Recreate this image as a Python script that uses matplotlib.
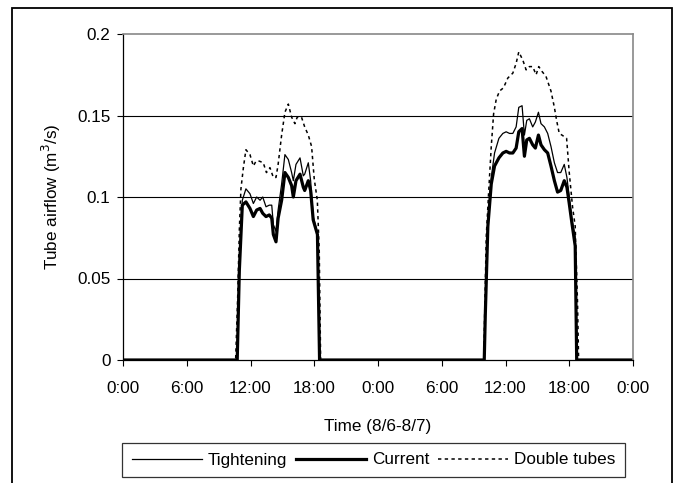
import matplotlib
matplotlib.use("Agg")
import matplotlib.pyplot as plt
from matplotlib.patches import Rectangle

# ---- data (hours since 8/6 0:00) ----
hours_tc = [0, 10.75, 10.95, 11.23, 11.57, 11.95, 12.27, 12.58, 12.9, 13.15, 13.46, 13.77, 14.0,
            14.15, 14.4, 14.6, 14.93, 15.24, 15.56, 15.87, 16.03, 16.28, 16.66, 16.97, 17.1,
            17.44, 17.66, 17.9, 18.3, 18.5,
            34.0, 34.1, 34.34, 34.66, 34.97, 35.38, 35.75, 36.06, 36.38, 36.69, 37.0, 37.25,
            37.56, 37.78, 38.0, 38.25, 38.56, 38.81, 39.1, 39.34, 39.66, 39.97, 40.28, 40.6,
            40.9, 41.2, 41.53, 41.78, 42.0, 42.25, 42.56, 42.7, 48]
tightening = [0, 0, 0.060, 0.098, 0.105, 0.102, 0.096, 0.100, 0.098, 0.100, 0.094, 0.095, 0.095,
              0.083, 0.079, 0.092, 0.108, 0.126, 0.123, 0.115, 0.110, 0.120, 0.124, 0.113, 0.114,
              0.121, 0.110, 0.088, 0.078, 0,
              0, 0.030, 0.086, 0.112, 0.127, 0.136, 0.139, 0.140, 0.139, 0.139, 0.143, 0.155,
              0.156, 0.138, 0.147, 0.148, 0.143, 0.146, 0.152, 0.145, 0.143, 0.139, 0.131, 0.121,
              0.115, 0.115, 0.120, 0.112, 0.100, 0.086, 0.076, 0, 0]
current = [0, 0, 0.055, 0.095, 0.097, 0.093, 0.088, 0.092, 0.093, 0.090, 0.088, 0.089, 0.087,
           0.077, 0.0725, 0.087, 0.098, 0.115, 0.112, 0.107, 0.100, 0.110, 0.114, 0.106, 0.104,
           0.110, 0.104, 0.086, 0.077, 0,
           0, 0.028, 0.082, 0.108, 0.119, 0.124, 0.127, 0.128, 0.127, 0.127, 0.130, 0.140,
           0.142, 0.125, 0.135, 0.136, 0.132, 0.130, 0.138, 0.132, 0.129, 0.127, 0.119, 0.110,
           0.103, 0.104, 0.110, 0.106, 0.096, 0.084, 0.070, 0, 0]

hours_dt = [0, 10.6, 10.8, 10.95, 11.1, 11.33, 11.57, 11.95, 12.27, 12.52, 12.83, 13.2, 13.5, 13.83,
            14.15, 14.4, 14.6, 14.93, 15.24, 15.56, 15.87, 16.18, 16.4, 16.8, 17.1, 17.44, 17.75,
            18.0, 18.29, 18.47, 18.6,
            33.95, 34.03, 34.19, 34.44, 34.66, 34.88, 35.13, 35.44, 35.81, 36.22, 36.69, 37.0,
            37.25, 37.63, 37.94, 38.25, 38.56, 38.88, 39.13, 39.44, 39.81, 40.28, 40.6, 40.81,
            41.06, 41.31, 41.75, 42.0, 42.31, 42.56, 42.78, 42.88, 48]
double_tubes = [0, 0, 0.040, 0.080, 0.105, 0.118, 0.129, 0.126, 0.119, 0.122, 0.122, 0.121, 0.115,
                0.118, 0.112, 0.112, 0.120, 0.138, 0.152, 0.157, 0.149, 0.145, 0.149, 0.149, 0.143,
                0.138, 0.131, 0.111, 0.098, 0.067, 0,
                0, 0.025, 0.076, 0.106, 0.131, 0.151, 0.160, 0.165, 0.167, 0.173, 0.176, 0.182,
                0.189, 0.184, 0.178, 0.180, 0.180, 0.175, 0.180, 0.177, 0.174, 0.165, 0.155, 0.147,
                0.139, 0.138, 0.136, 0.115, 0.094, 0.082, 0.035, 0, 0]

xtick_pos = [0, 6, 12, 18, 24, 30, 36, 42, 48]
xtick_labels = ["0:00", "6:00", "12:00", "18:00", "0:00", "6:00", "12:00", "18:00", "0:00"]
ytick_pos = [0, 0.05, 0.1, 0.15, 0.2]
ytick_labels = ["0", "0.05", "0.1", "0.15", "0.2"]

FS = 12.3
plt.rcParams['font.family'] = ['Liberation Sans', 'DejaVu Sans']
plt.rcParams['font.size'] = FS

fig = plt.figure(figsize=(6.8, 4.83), dpi=100)
ax = fig.add_axes([123/680, 1-360/483, 510/680, 326/483])

l1, = ax.plot(hours_tc, tightening, color='black', lw=0.9, label='Tightening')
l2, = ax.plot(hours_tc, current, color='black', lw=2.3, label='Current')
l3, = ax.plot(hours_dt, double_tubes, color='black', lw=1.1, linestyle=(0, (2.2, 2.2)),
              label='Double tubes')

ax.set_xlim(0, 48)
ax.set_ylim(0, 0.2)
ax.set_xticks(xtick_pos)
ax.set_xticklabels(xtick_labels)
ax.set_yticks(ytick_pos)
ax.set_yticklabels(ytick_labels)
ax.tick_params(direction='out', length=4, width=0.8, colors='black', labelsize=FS)
ax.tick_params(axis='x', pad=11)
ax.tick_params(axis='y', pad=5)
for y in [0.05, 0.1, 0.15]:
    ax.axhline(y, color='black', lw=0.8, zorder=0)
for s in ['top', 'right']:
    ax.spines[s].set_color('#888888')
    ax.spines[s].set_linewidth(1.2)
for s in ['left', 'bottom']:
    ax.spines[s].set_color('black')
    ax.spines[s].set_linewidth(0.9)

ax.set_ylabel('Tube airflow (m$^3$/s)', fontsize=FS, labelpad=10)
ax.set_xlabel('Time (8/6-8/7)', fontsize=FS, labelpad=17)

leg = fig.legend(handles=[l1, l2, l3], loc='center', ncol=3,
                 bbox_to_anchor=(373.5/680, 1-460/483), frameon=True, fancybox=False,
                 edgecolor='black', handlelength=4.1, handletextpad=0.35, columnspacing=0.5,
                 fontsize=FS, borderpad=0.55, borderaxespad=0)
leg.get_frame().set_linewidth(0.9)

fig.patches.append(Rectangle((12/680, -0.05), 660/680, 1.05-8/483, transform=fig.transFigure,
                             fill=False, edgecolor='black', lw=1.3))

fig.savefig('out.png', dpi=100)
